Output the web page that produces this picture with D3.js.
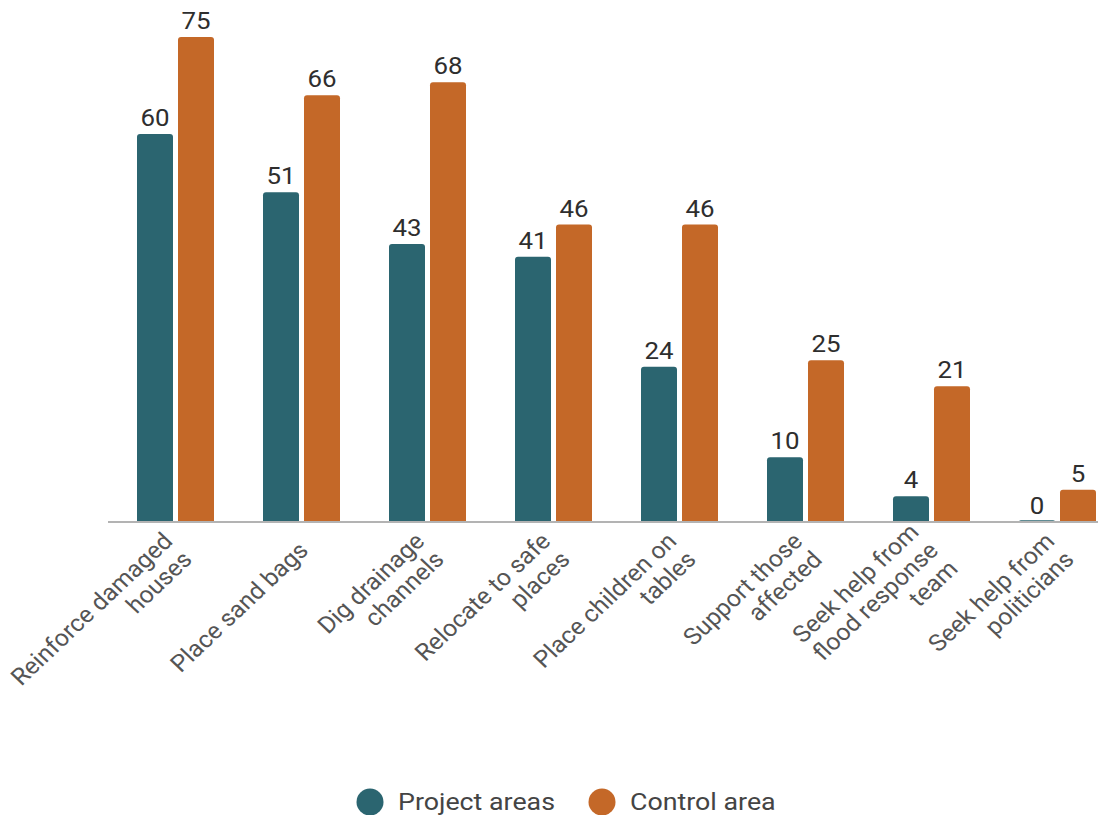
<!DOCTYPE html>
<html>
<head>
<meta charset="utf-8">
<script src="https://cdn.jsdelivr.net/npm/d3@7"></script>
<style>
  html, body { margin: 0; padding: 0; background: #ffffff; }
  svg { display: block; font-family: Roboto, "Noto Sans", sans-serif; }
</style>
</head>
<body>
<svg id="chart" width="1105" height="815"></svg>
<script>
// Flood-response actions reported, project areas vs control area
const categories = [
  "Reinforce damaged\nhouses",
  "Place sand bags",
  "Dig drainage\nchannels",
  "Relocate to safe\nplaces",
  "Place children on\ntables",
  "Support those\naffected",
  "Seek help from\nflood response\nteam",
  "Seek help from\npoliticians"
];
const seriesNames = ["Project areas", "Control area"];
const projectAreas = [60, 51, 43, 41, 24, 10, 4, 0];
const controlArea = [75, 66, 68, 46, 46, 25, 21, 5];
const colors = ["#2b6570", "#c46828"];

// text is drawn slightly wide
const stretch = 1.1;
const labelStretch = 1.06;

const svg = d3.select("#chart");

const rows = categories.map((c, i) => ({
  category: c,
  values: [projectAreas[i], controlArea[i]]
}));

const x0 = d3.scaleBand()
  .domain(categories)
  .range([112.5, 1120.5])
  .paddingInner(49 / 126)
  .paddingOuter(49 / 252);

const x1 = d3.scaleBand()
  .domain(seriesNames)
  .range([0, x0.bandwidth()])
  .paddingInner(0.122);

const y = d3.scaleLinear().domain([0, 75]).range([522, 37]);

const color = d3.scaleOrdinal().domain(seriesNames).range(colors);

// bar with slightly rounded top corners
function barPath(x, top, w, bottom, r) {
  const h = bottom - top;
  r = Math.min(r, h, w / 2);
  return `M${x},${bottom}V${top + r}Q${x},${top} ${x + r},${top}` +
         `H${x + w - r}Q${x + w},${top} ${x + w},${top + r}V${bottom}Z`;
}

const groups = svg.append("g")
  .selectAll("g")
  .data(rows)
  .join("g")
  .attr("transform", d => `translate(${x0(d.category)},0)`);

const cells = groups.selectAll("g.cell")
  .data(d => d.values.map((v, k) => ({ series: seriesNames[k], value: v })))
  .join("g")
  .attr("class", "cell");

cells.append("path")
  .attr("d", d => {
    const top = Math.min(y(d.value), y(0) - 2);
    return barPath(x1(d.series), top, x1.bandwidth(), y(0), 3);
  })
  .attr("fill", d => color(d.series))
  .attr("fill-opacity", d => d.value === 0 ? 0.75 : 1);

cells.append("text")
  .attr("transform", d =>
    `translate(${x1(d.series) + x1.bandwidth() / 2},${y(d.value) - 8}) scale(${stretch},1)`)
  .attr("text-anchor", "middle")
  .attr("font-size", 23.5)
  .attr("fill", "#2e2e2e")
  .text(d => d.value);

// baseline
svg.append("line")
  .attr("x1", 108).attr("x2", 1098)
  .attr("y1", y(0)).attr("y2", y(0))
  .attr("stroke", "#b3b3b3")
  .attr("stroke-width", 2);

// rotated category labels
const lh = 26;
const labels = svg.append("g")
  .selectAll("g")
  .data(categories)
  .join("g")
  .attr("transform", d =>
    `translate(${x0(d) + x0.bandwidth() / 2 + 2},546) scale(${labelStretch},1) rotate(-45)`);

labels.append("text")
  .attr("text-anchor", "end")
  .attr("font-size", 23.5)
  .attr("fill", "#555555")
  .each(function (d) {
    const lines = d.split("\n");
    const t = d3.select(this);
    lines.forEach((ln, i) => {
      t.append("tspan")
        .attr("x", 0)
        .attr("y", (i - (lines.length - 1) / 2) * lh)
        .attr("dy", "0.35em")
        .text(ln);
    });
  });

// legend
const legendItems = [
  { name: seriesNames[0], cx: 370, tx: 398 },
  { name: seriesNames[1], cx: 602, tx: 630 }
];
const legend = svg.append("g");
legend.selectAll("circle")
  .data(legendItems)
  .join("circle")
  .attr("cx", d => d.cx)
  .attr("cy", 802)
  .attr("r", 13.5)
  .attr("fill", d => color(d.name));
legend.selectAll("text")
  .data(legendItems)
  .join("text")
  .attr("transform", d => `translate(${d.tx},802) scale(${stretch + 0.04},1)`)
  .attr("dy", "0.35em")
  .attr("font-size", 23.5)
  .attr("fill", "#444444")
  .text(d => d.name);
</script>
</body>
</html>
